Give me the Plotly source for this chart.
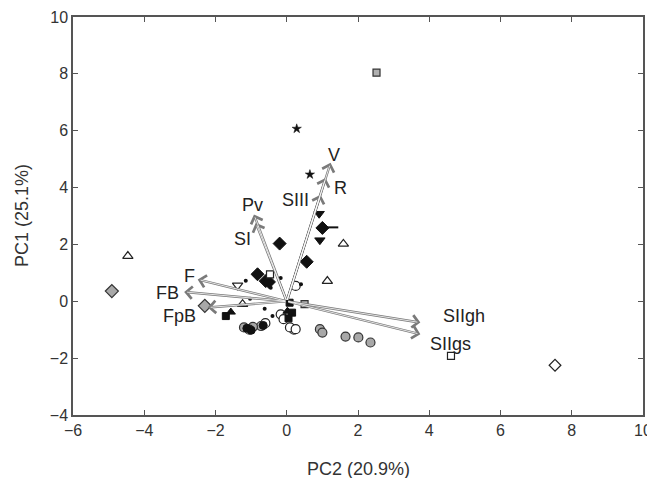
import plotly.graph_objects as go

# ---- loadings (arrows) ----
var_names = ["V", "R", "SIII", "Pv", "SI", "F", "FB", "FpB", "SIIgh", "SIIgs"]
load_x = [1.23, 1.09, 0.95, -0.92, -0.87, -2.50, -2.88, -2.22, 3.75, 3.75]
load_y = [4.87, 4.34, 3.75, 3.05, 2.76, 0.77, 0.33, -0.22, -0.75, -1.16]
label_x = [1.32, 1.51, 0.25, -0.95, -1.23, -2.74, -3.34, -3.02, 4.97, 4.59]
label_y = [5.16, 4.00, 3.58, 3.40, 2.18, 0.89, 0.28, -0.52, -0.52, -1.51]

# ---- scores (groups by marker) ----
gray_circle_x = [0.93, 1.00, 1.65, 2.01, 2.35, -1.20, -0.72, 0.20, -0.95]
gray_circle_y = [-0.98, -1.10, -1.24, -1.27, -1.45, -0.92, -0.87, -1.00, -0.90]
open_circle_x = [0.25, -0.17, -0.09, 0.09, 0.25, -0.60, -1.05]
open_circle_y = [0.54, -0.46, -0.63, -0.92, -0.98, -0.77, -1.00]
black_circle_x = [-1.00, -1.12, -0.66]
black_circle_y = [-1.02, -0.95, -0.85]
gray_diamond_x = [-4.91, -2.30]
gray_diamond_y = [0.36, -0.16]
open_diamond_x = [7.53]
open_diamond_y = [-2.25]
black_diamond_x = [-0.20, 0.56, -0.82, 1.00, -0.59, -0.50]
black_diamond_y = [2.03, 1.39, 0.95, 2.58, 0.71, 0.68]
open_tri_up_x = [-4.46, 1.59, 1.14, -1.24]
open_tri_up_y = [1.59, 2.02, 0.71, -0.10]
open_tri_down_x = [-1.38]
open_tri_down_y = [0.56]
black_tri_down_x = [0.91, 0.93]
black_tri_down_y = [3.08, 2.15]
black_tri_up_x = [-1.57, 0.02]
black_tri_up_y = [-0.38, -0.35]
black_square_x = [-1.71, 0.08, 0.15, 0.05]
black_square_y = [-0.52, -0.05, -0.40, -0.60]
gray_square_x = [2.52, 0.50]
gray_square_y = [8.04, -0.10]
open_square_x = [4.61, -0.47]
open_square_y = [-1.92, 0.95]
star_x = [0.28, 0.65]
star_y = [6.07, 4.46]
dot_x = [-1.15, -1.03, -0.62, -0.40, -0.17, -0.45, 0.40]
dot_y = [0.72, 0.09, -0.26, -0.52, 0.82, 0.48, 0.60]
dash_x = [1.25]
dash_y = [2.60]

FONT = "Liberation Sans, Arial, sans-serif"

fig = go.Figure()

def add(x, y, symbol, size, fill, line="#222", lw=1):
    fig.add_trace(go.Scatter(
        x=x, y=y, mode="markers", showlegend=False, hoverinfo="skip",
        marker=dict(symbol=symbol, size=size, color=fill,
                    line=dict(color=line, width=lw))))

add(gray_circle_x, gray_circle_y, "circle", 9, "#a8a8a8", "#333", 1.2)
add(open_circle_x, open_circle_y, "circle", 9, "white", "#222", 1.2)
add(black_circle_x, black_circle_y, "circle", 8, "#111", "#111", 1)
add(gray_diamond_x, gray_diamond_y, "diamond", 10, "#a8a8a8", "#333", 1.2)
add(open_diamond_x, open_diamond_y, "diamond", 9, "white", "#222", 1.2)
add(black_diamond_x, black_diamond_y, "diamond", 10, "#111", "#111", 1)
add(open_tri_up_x, open_tri_up_y, "triangle-up", 9, "white", "#222", 1.2)
add(open_tri_down_x, open_tri_down_y, "triangle-down", 9, "white", "#222", 1.2)
add(black_tri_down_x, black_tri_down_y, "triangle-down", 9, "#111", "#111", 1)
add(black_tri_up_x, black_tri_up_y, "triangle-up", 8, "#111", "#111", 1)
add(black_square_x, black_square_y, "square", 7, "#111", "#111", 1)
add(gray_square_x, gray_square_y, "square", 7, "#b0b0b0", "#333", 1.2)
add(open_square_x, open_square_y, "square", 7, "white", "#222", 1.2)
add(star_x, star_y, "star", 7, "#111", "#111", 0.5)
add(dot_x, dot_y, "circle", 4, "#111", "#111", 0)
fig.add_trace(go.Scatter(
    x=dash_x, y=dash_y, mode="markers", showlegend=False, hoverinfo="skip",
    marker=dict(symbol="line-ew", size=10, line=dict(color="#111", width=2))))

annotations = []
# arrows: gray outer + white inner to mimic double-line arrows
for lx, ly in zip(load_x, load_y):
    annotations.append(dict(x=lx, y=ly, ax=0, ay=0, xref="x", yref="y",
                            axref="x", ayref="y", showarrow=True, text="",
                            arrowhead=4, arrowsize=1.0, arrowwidth=2.4,
                            arrowcolor="#7a7a7a"))
for lx, ly in zip(load_x, load_y):
    annotations.append(dict(x=lx, y=ly, ax=0, ay=0, xref="x", yref="y",
                            axref="x", ayref="y", showarrow=True, text="",
                            arrowhead=0, arrowwidth=0.8, standoff=3,
                            arrowcolor="white"))
for name, tx, ty in zip(var_names, label_x, label_y):
    annotations.append(dict(x=tx, y=ty, xref="x", yref="y", text=name,
                            showarrow=False,
                            font=dict(size=18, color="#222", family=FONT)))

# axis titles
annotations.append(dict(x=0.5, y=0, xref="paper", yref="paper",
                        xanchor="center", yanchor="top", yshift=-42,
                        text="PC2 (20.9%)", showarrow=False,
                        font=dict(size=18, color="#333", family=FONT)))
annotations.append(dict(x=0, y=0.5, xref="paper", yref="paper",
                        xanchor="center", yanchor="middle", xshift=-51,
                        text="PC1 (25.1%)", showarrow=False, textangle=-90,
                        font=dict(size=18, color="#333", family=FONT)))

axis_common = dict(showgrid=False, zeroline=False, showline=True,
                   linecolor="#555", linewidth=1.5, mirror="ticks",
                   ticks="inside", ticklen=5, tickcolor="#555", tickwidth=1.2,
                   dtick=2, automargin=False,
                   tickfont=dict(size=16, color="#333", family=FONT))

# page body has an 8px margin: size the figure so it fits the window
fig.update_layout(
    width=647, height=470,
    margin=dict(l=65, r=12, t=9, b=63),
    plot_bgcolor="white", paper_bgcolor="white",
    xaxis=dict(range=[-6, 10], tick0=-6, **axis_common),
    yaxis=dict(range=[-4, 10], tick0=-4, **axis_common),
    annotations=annotations,
)

fig.write_html("out.html")
